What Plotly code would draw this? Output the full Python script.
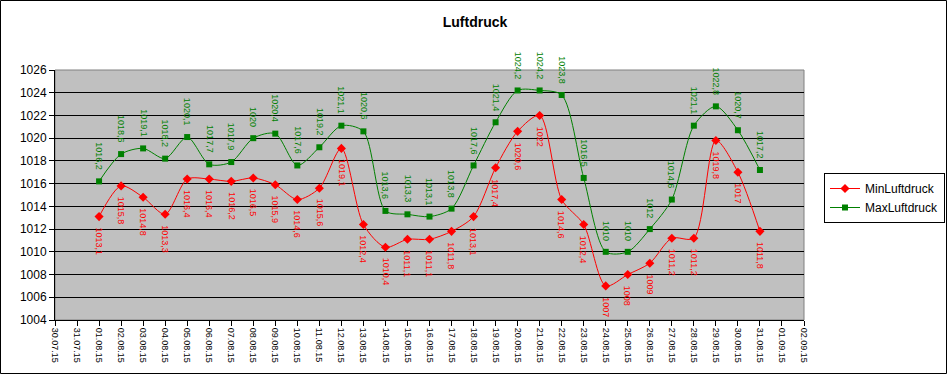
import plotly.graph_objects as go
import pandas as pd

dates = pd.date_range("2015-08-01", "2015-08-31", freq="D")
min_luftdruck = [1013.1, 1015.8, 1014.8, 1013.3, 1016.4, 1016.4, 1016.2, 1016.5, 1015.9, 1014.6,
                 1015.6, 1019.1, 1012.4, 1010.4, 1011.1, 1011.1, 1011.8, 1013.1, 1017.4, 1020.6,
                 1022.0, 1014.6, 1012.4, 1007.0, 1008.0, 1009.0, 1011.2, 1011.2, 1019.8, 1017.0, 1011.8]
max_luftdruck = [1016.2, 1018.6, 1019.1, 1018.2, 1020.1, 1017.7, 1017.9, 1020.0, 1020.4, 1017.6,
                 1019.2, 1021.1, 1020.6, 1013.6, 1013.3, 1013.1, 1013.8, 1017.6, 1021.4, 1024.2,
                 1024.2, 1023.8, 1016.5, 1010.0, 1010.0, 1012.0, 1014.6, 1021.1, 1022.8, 1020.7, 1017.2]

FONT = "Liberation Sans, Arial, sans-serif"
W, H = 948, 375
ML, MR, MT, MB = 55, 144, 70, 55
PW, PH = W - ML - MR, H - MT - MB


def fmt(v):
    s = ("%.1f" % v).rstrip("0").rstrip(".")
    return s.replace(".", ",")


fig = go.Figure()
fig.add_trace(go.Scatter(
    x=dates, y=min_luftdruck, name="MinLuftdruck", mode="lines+markers",
    line=dict(color="#FF0000", width=1, shape="spline", smoothing=0.8),
    marker=dict(symbol="diamond", size=7, color="#FF0000")))
fig.add_trace(go.Scatter(
    x=dates, y=max_luftdruck, name="MaxLuftdruck", mode="lines+markers",
    line=dict(color="#008000", width=1, shape="spline", smoothing=0.8),
    marker=dict(symbol="square", size=6, color="#008000")))

annotations = []
for d, v in zip(dates, min_luftdruck):
    annotations.append(dict(x=d, y=v, text=fmt(v), showarrow=False, textangle=90,
                            yanchor="top", xanchor="center", yshift=-9,
                            font=dict(family=FONT, size=9, color="#FF0000")))
for d, v in zip(dates, max_luftdruck):
    annotations.append(dict(x=d, y=v, text=fmt(v), showarrow=False, textangle=90,
                            yanchor="bottom", xanchor="center", yshift=9,
                            font=dict(family=FONT, size=9, color="#008000")))

shapes = [
    dict(type="rect", xref="paper", yref="paper", x0=0, x1=1, y0=0, y1=1,
         line=dict(color="#808080", width=1), layer="below"),
    dict(type="rect", xref="paper", yref="paper",
         x0=-(ML - 0.5) / PW, x1=(W - ML - 1.5) / PW,
         y0=-(MB - 1.5) / PH, y1=(PH + MT - 0.5) / PH,
         line=dict(color="#000000", width=1)),
]

fig.update_layout(
    width=W, height=H,
    margin=dict(l=ML, r=MR, t=MT, b=MB, autoexpand=False),
    paper_bgcolor="white", plot_bgcolor="#C0C0C0",
    title=dict(text="<b>Luftdruck</b>", x=(475 - ML) / PW, xref="paper", xanchor="center",
               y=(H - 22) / H, yref="container", yanchor="middle",
               font=dict(family=FONT, size=14, color="black")),
    font=dict(family=FONT, size=11, color="black"),
    showlegend=True,
    legend=dict(x=(824 - ML) / PW, y=(H - MB - 173) / PH, xanchor="left", yanchor="top",
                bordercolor="black", borderwidth=1, bgcolor="white",
                font=dict(family=FONT, size=12), tracegroupgap=0, itemwidth=30),
    annotations=annotations,
    shapes=shapes,
    xaxis=dict(type="date", range=["2015-07-30", "2015-09-02"], tickformat="%d.%m.%y",
               dtick=86400000, tick0="2015-07-30", tickangle=90, showgrid=False,
               showline=True, linecolor="black", linewidth=1, ticks="outside",
               ticklen=5, tickcolor="black", tickfont=dict(family=FONT, size=9),
               zeroline=False, automargin=False),
    yaxis=dict(range=[1004, 1026], dtick=2, tick0=1004, showgrid=True, gridcolor="black",
               gridwidth=1, showline=True, linecolor="black", linewidth=1, ticks="outside",
               ticklen=5, tickcolor="black", tickfont=dict(family=FONT, size=12),
               zeroline=False, automargin=False),
)

fig.write_html("out.html", config={"displayModeBar": False},
               post_script="document.body.style.margin='0';")
